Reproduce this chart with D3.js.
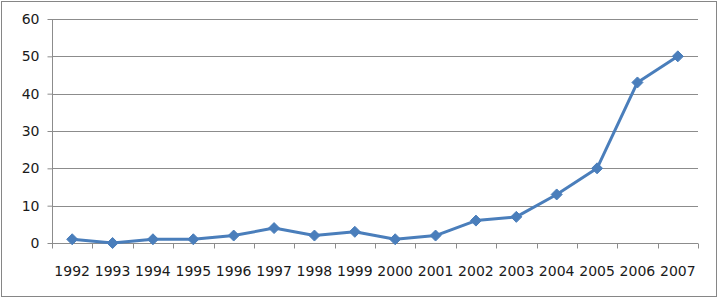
<!DOCTYPE html>
<html>
<head>
<meta charset="utf-8">
<script src="https://cdn.jsdelivr.net/npm/d3@7.9.0/dist/d3.min.js"></script>
<style>
  body { margin: 0; background: #fff; }
  svg text { font-family: "DejaVu Sans", sans-serif; font-size: 14px; fill: #1a1a1a; }
</style>
</head>
<body>
<svg id="chart" width="718" height="298"></svg>
<script>
// chart data
const years = ["1992", "1993", "1994", "1995", "1996", "1997", "1998", "1999",
               "2000", "2001", "2002", "2003", "2004", "2005", "2006", "2007"];
const values = [1, 0, 1, 1, 2, 4, 2, 3, 1, 2, 6, 7, 13, 20, 43, 50];
const yTicks = [0, 10, 20, 30, 40, 50, 60];

const svg = d3.select("#chart");
const margin = { left: 52, right: 20, top: 19, bottom: 55 };
const width = 718 - margin.left - margin.right;
const height = 298 - margin.top - margin.bottom;

// outer frame
svg.append("rect")
    .attr("x", 1.5).attr("y", 1.5)
    .attr("width", 715).attr("height", 295)
    .attr("fill", "none")
    .attr("stroke", "#868686")
    .attr("stroke-width", 1);

const g = svg.append("g").attr("transform", `translate(${margin.left},${margin.top})`);

const x = d3.scaleBand().domain(years).range([0, width]);
const y = d3.scaleLinear().domain([0, 60]).range([height, 0]);

// gridlines
g.selectAll(".grid")
    .data(yTicks.filter(d => d > 0))
    .join("line")
    .attr("class", "grid")
    .attr("x1", 0).attr("x2", width)
    .attr("y1", d => Math.round(y(d)) + 0.5)
    .attr("y2", d => Math.round(y(d)) + 0.5)
    .attr("stroke", "#8c8c8c");

// y axis
const yAxis = g.append("g")
    .attr("transform", "translate(0.5,0)")
    .call(d3.axisLeft(y).tickValues(yTicks).tickSize(5).tickPadding(8));
yAxis.select(".domain").attr("stroke", "#8c8c8c").attr("d", `M0,0.5V${height + 0.5}`);
yAxis.selectAll(".tick line").attr("stroke", "#8c8c8c");
yAxis.selectAll("text").style("font-size", "14px").attr("fill", "#1a1a1a");

// x axis: ticks at category boundaries
const xg = g.append("g").attr("transform", `translate(0,${Math.round(height) + 0.5})`);
xg.append("line")
    .attr("x1", 0).attr("x2", width)
    .attr("stroke", "#8c8c8c");
const bounds = d3.range(years.length + 1).map(i => i === years.length ? width : x(years[i]));
xg.selectAll(".xt")
    .data(bounds)
    .join("line")
    .attr("class", "xt")
    .attr("x1", d => Math.round(d) + 0.5).attr("x2", d => Math.round(d) + 0.5)
    .attr("y1", 0).attr("y2", 5)
    .attr("stroke", "#8c8c8c");
xg.selectAll(".xl")
    .data(years)
    .join("text")
    .attr("class", "xl")
    .attr("x", d => x(d) + x.bandwidth() / 2)
    .attr("y", 32)
    .attr("text-anchor", "middle")
    .text(d => d);

// line
const pts = years.map((yr, i) => ({ yr, v: values[i] }));
g.append("path")
    .datum(pts)
    .attr("fill", "none")
    .attr("stroke", "#4a7ebb")
    .attr("stroke-width", 3)
    .attr("stroke-linejoin", "round")
    .attr("d", d3.line().x(d => x(d.yr) + x.bandwidth() / 2).y(d => y(d.v)));

// diamond markers
g.selectAll(".mk")
    .data(pts)
    .join("path")
    .attr("class", "mk")
    .attr("transform", d => `translate(${x(d.yr) + x.bandwidth() / 2},${y(d.v)})`)
    .attr("d", "M0,-5.5L5.5,0L0,5.5L-5.5,0Z")
    .attr("fill", "#4a7ebb")
    .attr("stroke", "#4a7ebb")
    .attr("stroke-width", 1);
</script>
</body>
</html>
